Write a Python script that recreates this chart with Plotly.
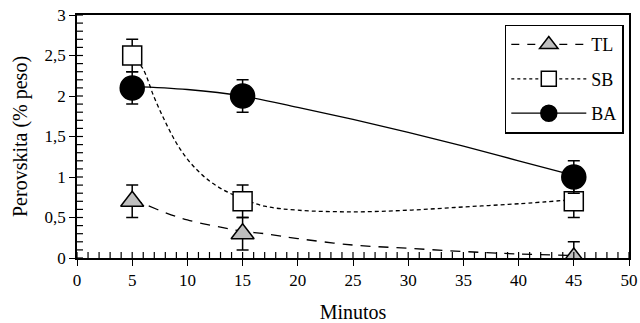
import plotly.graph_objects as go

# measured points
minutes = [5, 15, 45]
tl_vals = [0.7, 0.3, 0.0]
sb_vals = [2.5, 0.7, 0.7]
ba_vals = [2.1, 2.0, 1.0]
tl_err = [0.2, 0.2, 0.2]
sb_err = [0.2, 0.2, 0.2]
ba_err = [0.2, 0.2, 0.2]

# trend curves
tl_curve_x = [5, 6, 8, 10, 13, 15, 17, 20, 25, 30, 35, 40, 45]
tl_curve_y = [0.72, 0.67, 0.56, 0.47, 0.38, 0.33, 0.30, 0.24, 0.16, 0.12, 0.08, 0.05, 0.03]
sb_curve_x = [5, 6, 7, 8, 9, 10, 11, 12, 13, 14, 15, 17, 20, 25, 30, 35, 40, 45]
sb_curve_y = [2.52, 2.33, 1.98, 1.68, 1.42, 1.22, 1.07, 0.95, 0.86, 0.79, 0.73, 0.64,
              0.59, 0.57, 0.59, 0.63, 0.67, 0.72]
ba_curve_x = [5, 10, 15, 20, 25, 30, 35, 40, 45]
ba_curve_y = [2.12, 2.08, 2.0, 1.86, 1.71, 1.55, 1.38, 1.2, 1.02]

# axis ranges and tick steps
x_range = [0, 50]
y_range = [0, 3]
x_minor_step = 1
y_minor_step = 0.1

FONT = "Liberation Serif"
BLACK = "#000000"
GREY = "#bfbfbf"

fig = go.Figure()

# curves
fig.add_trace(go.Scatter(x=tl_curve_x, y=tl_curve_y, mode="lines", line_shape="spline",
                         line=dict(color=BLACK, width=1.3, dash="10px,8px"), showlegend=False))
fig.add_trace(go.Scatter(x=sb_curve_x, y=sb_curve_y, mode="lines", line_shape="spline",
                         line=dict(color=BLACK, width=1.3, dash="4px,3px"), showlegend=False))
fig.add_trace(go.Scatter(x=ba_curve_x, y=ba_curve_y, mode="lines", line_shape="spline",
                         line=dict(color=BLACK, width=1.3), showlegend=False))

err_style = dict(type="data", color=BLACK, thickness=1.5, width=6)

fig.add_trace(go.Scatter(x=minutes, y=tl_vals, mode="markers", showlegend=False,
                         error_y=dict(array=tl_err, **err_style),
                         marker=dict(symbol="triangle-up", size=20, color=GREY,
                                     line=dict(color=BLACK, width=1.5))))
fig.add_trace(go.Scatter(x=minutes, y=sb_vals, mode="markers", showlegend=False,
                         error_y=dict(array=sb_err, **err_style),
                         marker=dict(symbol="square", size=19, color="white",
                                     line=dict(color=BLACK, width=1.5))))
fig.add_trace(go.Scatter(x=minutes, y=ba_vals, mode="markers", showlegend=False,
                         error_y=dict(array=ba_err, **err_style),
                         marker=dict(symbol="circle", size=24, color=BLACK,
                                     line=dict(color=BLACK, width=1.5))))

# legend entries
fig.add_trace(go.Scatter(x=[None], y=[None], mode="lines+markers", name="TL", legendgroup="a",
                         line=dict(color=BLACK, width=1.3, dash="8px,8px"),
                         marker=dict(symbol="triangle-up", size=16, color=GREY,
                                     line=dict(color=BLACK, width=1.5))))
fig.add_trace(go.Scatter(x=[None], y=[None], mode="lines+markers", name="SB", legendgroup="b",
                         line=dict(color=BLACK, width=1.3, dash="3px,3px"),
                         marker=dict(symbol="square", size=15, color="white",
                                     line=dict(color=BLACK, width=1.5))))
fig.add_trace(go.Scatter(x=[None], y=[None], mode="lines+markers", name="BA", legendgroup="c",
                         line=dict(color=BLACK, width=1.3),
                         marker=dict(symbol="circle", size=16, color=BLACK,
                                     line=dict(color=BLACK, width=1.5))))

# inside tick marks (minor and the inner half of major ticks), placed on the axes' scales
tick_shapes = []
n_x = int(round((x_range[1] - x_range[0]) / x_minor_step))
for i in range(n_x + 1):
    v = x_range[0] + i * x_minor_step
    tick_shapes.append(dict(type="line", xref="x", yref="y", x0=v, x1=v,
                            ysizemode="pixel", yanchor=y_range[0], y0=0, y1=6,
                            line=dict(color=BLACK, width=1.2), layer="above"))
n_y = int(round((y_range[1] - y_range[0]) / y_minor_step))
for i in range(n_y + 1):
    v = round(y_range[0] + i * y_minor_step, 3)
    tick_shapes.append(dict(type="line", xref="x", yref="y", y0=v, y1=v,
                            xsizemode="pixel", xanchor=x_range[0], x0=0, x1=6,
                            line=dict(color=BLACK, width=1.2), layer="above"))

fig.update_layout(
    template="none",
    width=640, height=323,
    margin=dict(l=77, r=11, t=15, b=65),
    font=dict(family=FONT, size=17, color=BLACK),
    separators=",.",
    showlegend=True,
    legend=dict(x=0.775, y=0.96, xanchor="left", yanchor="top",
                bordercolor=BLACK, borderwidth=1.5, bgcolor="white",
                font=dict(family=FONT, size=18, color=BLACK), tracegroupgap=8,
                itemwidth=75),
    xaxis=dict(range=x_range, dtick=5, showgrid=False, zeroline=False,
               showline=True, linecolor=BLACK, linewidth=1.5, mirror=True,
               ticks="outside", ticklen=6, tickcolor=BLACK,
               title=dict(text="Minutos")),
    yaxis=dict(range=y_range, dtick=0.5, showgrid=False, zeroline=False,
               showline=True, linecolor=BLACK, linewidth=1.5, mirror=True,
               ticks="outside", ticklen=6, tickcolor=BLACK,
               title=dict(text="Perovskita (% peso)")),
    shapes=tick_shapes,
)

fig.write_html("out.html")
